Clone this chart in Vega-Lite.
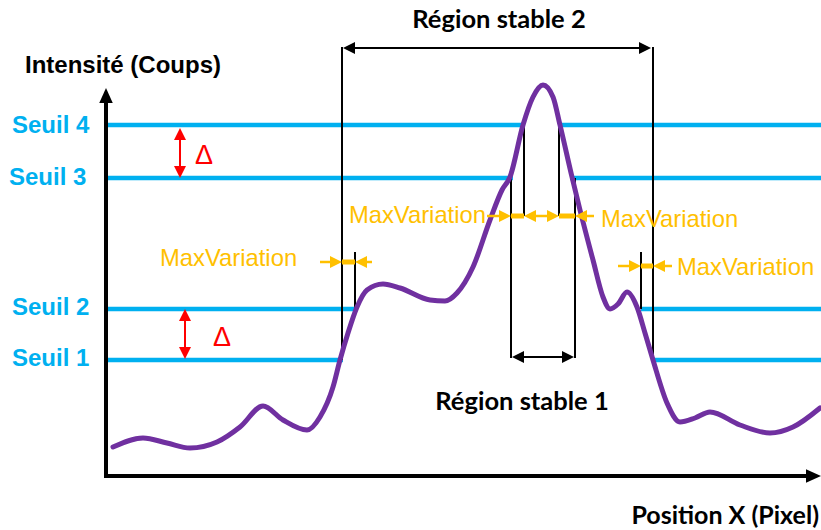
{
  "$schema": "https://vega.github.io/schema/vega-lite/v6.json",
  "width": 821,
  "height": 530,
  "padding": 0,
  "autosize": {"type": "none"},
  "background": "white",
  "config": {"view": {"stroke": null}},
  "datasets": {
    "curve": [
      {"x": 113, "y": 447}, {"x": 143, "y": 438}, {"x": 167, "y": 443}, {"x": 190, "y": 448},
      {"x": 217, "y": 442}, {"x": 240, "y": 427}, {"x": 263, "y": 406}, {"x": 283, "y": 420},
      {"x": 307, "y": 430}, {"x": 320, "y": 417}, {"x": 333, "y": 387}, {"x": 340, "y": 360},
      {"x": 348, "y": 333}, {"x": 357, "y": 307}, {"x": 367, "y": 290}, {"x": 383, "y": 284},
      {"x": 400, "y": 288}, {"x": 430, "y": 300}, {"x": 445, "y": 301}, {"x": 457, "y": 293},
      {"x": 473, "y": 267}, {"x": 490, "y": 220}, {"x": 502, "y": 190}, {"x": 510, "y": 177},
      {"x": 523, "y": 125}, {"x": 533, "y": 97}, {"x": 543, "y": 85}, {"x": 553, "y": 97},
      {"x": 560, "y": 125}, {"x": 572, "y": 177}, {"x": 580, "y": 210}, {"x": 593, "y": 260},
      {"x": 603, "y": 297}, {"x": 610, "y": 309}, {"x": 618, "y": 304}, {"x": 627, "y": 292},
      {"x": 637, "y": 307}, {"x": 645, "y": 333}, {"x": 653, "y": 360}, {"x": 667, "y": 403},
      {"x": 680, "y": 422}, {"x": 695, "y": 418}, {"x": 710, "y": 412}, {"x": 740, "y": 425},
      {"x": 770, "y": 433}, {"x": 793, "y": 427}, {"x": 820, "y": 408}
    ],
    "segs": [
      {"kind": "axis", "x": 106, "y": 478, "xe": 106, "ye": 98},
      {"kind": "axis", "x": 104, "y": 476, "xe": 810, "ye": 476},
      {"kind": "seuil", "x": 108, "y": 125, "xe": 525, "ye": 125},
      {"kind": "seuil", "x": 559, "y": 125, "xe": 821, "ye": 125},
      {"kind": "seuil", "x": 108, "y": 178, "xe": 513, "ye": 178},
      {"kind": "seuil", "x": 570, "y": 178, "xe": 821, "ye": 178},
      {"kind": "seuil", "x": 108, "y": 309, "xe": 356, "ye": 309},
      {"kind": "seuil", "x": 641, "y": 309, "xe": 821, "ye": 309},
      {"kind": "seuil", "x": 108, "y": 360, "xe": 343, "ye": 360},
      {"kind": "seuil", "x": 652, "y": 360, "xe": 821, "ye": 360},
      {"kind": "thin", "x": 342, "y": 47, "xe": 342, "ye": 360},
      {"kind": "thin", "x": 653, "y": 47, "xe": 653, "ye": 360},
      {"kind": "thin", "x": 346, "y": 48, "xe": 646, "ye": 48},
      {"kind": "thin", "x": 355, "y": 252, "xe": 355, "ye": 309},
      {"kind": "thin", "x": 641, "y": 252, "xe": 641, "ye": 309},
      {"kind": "thin", "x": 524, "y": 125, "xe": 524, "ye": 216},
      {"kind": "thin", "x": 559, "y": 125, "xe": 559, "ye": 216},
      {"kind": "thin", "x": 511, "y": 178, "xe": 511, "ye": 358},
      {"kind": "thin", "x": 575, "y": 178, "xe": 575, "ye": 358},
      {"kind": "thin", "x": 516, "y": 357, "xe": 570, "ye": 357},
      {"kind": "oshaft", "x": 320, "y": 262, "xe": 338, "ye": 262},
      {"kind": "obar", "x": 342, "y": 262, "xe": 355, "ye": 262},
      {"kind": "oshaft", "x": 372, "y": 262, "xe": 359, "ye": 262},
      {"kind": "oshaft", "x": 487, "y": 216, "xe": 507, "ye": 216},
      {"kind": "obar", "x": 511, "y": 216, "xe": 524, "ye": 216},
      {"kind": "oshaft", "x": 528, "y": 216, "xe": 555, "ye": 216},
      {"kind": "obar", "x": 559, "y": 216, "xe": 575, "ye": 216},
      {"kind": "oshaft", "x": 594, "y": 216, "xe": 579, "ye": 216},
      {"kind": "oshaft", "x": 618, "y": 266, "xe": 637, "ye": 266},
      {"kind": "obar", "x": 641, "y": 266, "xe": 653, "ye": 266},
      {"kind": "oshaft", "x": 672, "y": 266, "xe": 657, "ye": 266},
      {"kind": "red", "x": 180, "y": 132, "xe": 180, "ye": 174},
      {"kind": "red", "x": 185, "y": 313, "xe": 185, "ye": 355}
    ],
    "heads": [
      {"kind": "black", "dir": "left", "x": 343, "y": 48},
      {"kind": "black", "dir": "right", "x": 651, "y": 48},
      {"kind": "black", "dir": "left", "x": 512, "y": 357},
      {"kind": "black", "dir": "right", "x": 574, "y": 357},
      {"kind": "orange", "dir": "right", "x": 342, "y": 262},
      {"kind": "orange", "dir": "left", "x": 355, "y": 262},
      {"kind": "orange", "dir": "right", "x": 511, "y": 216},
      {"kind": "orange", "dir": "left", "x": 524, "y": 216},
      {"kind": "orange", "dir": "right", "x": 559, "y": 216},
      {"kind": "orange", "dir": "left", "x": 575, "y": 216},
      {"kind": "orange", "dir": "right", "x": 641, "y": 266},
      {"kind": "orange", "dir": "left", "x": 653, "y": 266},
      {"kind": "red", "dir": "up", "x": 180, "y": 128},
      {"kind": "red", "dir": "down", "x": 180, "y": 178},
      {"kind": "red", "dir": "up", "x": 185, "y": 309},
      {"kind": "red", "dir": "down", "x": 185, "y": 359}
    ],
    "axisheads": [
      {"dir": "up", "x": 106, "y": 88},
      {"dir": "right", "x": 821, "y": 476}
    ],
    "labels": [
      {"kind": "seuil", "text": "Seuil 4", "x": 12, "y": 133},
      {"kind": "seuil", "text": "Seuil 3", "x": 9, "y": 185},
      {"kind": "seuil", "text": "Seuil 2", "x": 12, "y": 315},
      {"kind": "seuil", "text": "Seuil 1", "x": 12, "y": 366},
      {"kind": "title", "text": "Intensité (Coups)", "x": 25, "y": 73},
      {"kind": "region", "text": "Région stable 2", "x": 499, "y": 28},
      {"kind": "region", "text": "Région stable 1", "x": 522, "y": 410},
      {"kind": "xlabel", "text": "Position X (Pixel)", "x": 819, "y": 524},
      {"kind": "mv", "text": "MaxVariation", "x": 160, "y": 266},
      {"kind": "mvr", "text": "MaxVariation", "x": 486, "y": 223},
      {"kind": "mv", "text": "MaxVariation", "x": 601, "y": 227},
      {"kind": "mv", "text": "MaxVariation", "x": 677, "y": 275},
      {"kind": "delta", "text": "Δ", "x": 195, "y": 164},
      {"kind": "delta", "text": "Δ", "x": 213, "y": 346}
    ]
  },
  "encoding": {
    "x": {"field": "x", "type": "quantitative", "scale": {"domain": [0, 821], "nice": false, "zero": false}, "axis": null},
    "y": {"field": "y", "type": "quantitative", "scale": {"domain": [0, 530], "nice": false, "zero": false, "reverse": true}, "axis": null}
  },
  "layer": [
    {
      "data": {"name": "segs"},
      "transform": [{"filter": "datum.kind === 'seuil'"}],
      "mark": {"type": "rule", "color": "#00b0f0", "strokeWidth": 4.5},
      "encoding": {"x2": {"field": "xe"}, "y2": {"field": "ye"}}
    },
    {
      "data": {"name": "segs"},
      "transform": [{"filter": "datum.kind === 'thin'"}],
      "mark": {"type": "rule", "color": "#000000", "strokeWidth": 2},
      "encoding": {"x2": {"field": "xe"}, "y2": {"field": "ye"}}
    },
    {
      "data": {"name": "curve"},
      "mark": {"type": "line", "color": "#7030a0", "strokeWidth": 5, "interpolate": "monotone", "strokeCap": "round"},
      "encoding": {}
    },
    {
      "data": {"name": "segs"},
      "transform": [{"filter": "datum.kind === 'oshaft'"}],
      "mark": {"type": "rule", "color": "#ffc000", "strokeWidth": 2.5},
      "encoding": {"x2": {"field": "xe"}, "y2": {"field": "ye"}}
    },
    {
      "data": {"name": "segs"},
      "transform": [{"filter": "datum.kind === 'obar'"}],
      "mark": {"type": "rule", "color": "#ffc000", "strokeWidth": 5},
      "encoding": {"x2": {"field": "xe"}, "y2": {"field": "ye"}}
    },
    {
      "data": {"name": "segs"},
      "transform": [{"filter": "datum.kind === 'red'"}],
      "mark": {"type": "rule", "color": "#ff0000", "strokeWidth": 2},
      "encoding": {"x2": {"field": "xe"}, "y2": {"field": "ye"}}
    },
    {
      "data": {"name": "segs"},
      "transform": [{"filter": "datum.kind === 'axis'"}],
      "mark": {"type": "rule", "color": "#000000", "strokeWidth": 4},
      "encoding": {"x2": {"field": "xe"}, "y2": {"field": "ye"}}
    },
    {
      "data": {"name": "heads"},
      "transform": [{"filter": "datum.dir === 'right'"}],
      "mark": {"type": "point", "shape": "M0,0L-2,-1L-2,1Z", "filled": true, "opacity": 1, "size": 144, "strokeWidth": 0},
      "encoding": {"color": {"field": "kind", "type": "nominal", "scale": {"domain": ["black", "orange", "red"], "range": ["#000000", "#ffc000", "#ff0000"]}, "legend": null}}
    },
    {
      "data": {"name": "heads"},
      "transform": [{"filter": "datum.dir === 'left'"}],
      "mark": {"type": "point", "shape": "M0,0L2,-1L2,1Z", "filled": true, "opacity": 1, "size": 144, "strokeWidth": 0},
      "encoding": {"color": {"field": "kind", "type": "nominal", "scale": {"domain": ["black", "orange", "red"], "range": ["#000000", "#ffc000", "#ff0000"]}, "legend": null}}
    },
    {
      "data": {"name": "heads"},
      "transform": [{"filter": "datum.dir === 'up'"}],
      "mark": {"type": "point", "shape": "M0,0L-1,2L1,2Z", "filled": true, "opacity": 1, "size": 144, "strokeWidth": 0},
      "encoding": {"color": {"field": "kind", "type": "nominal", "scale": {"domain": ["black", "orange", "red"], "range": ["#000000", "#ffc000", "#ff0000"]}, "legend": null}}
    },
    {
      "data": {"name": "heads"},
      "transform": [{"filter": "datum.dir === 'down'"}],
      "mark": {"type": "point", "shape": "M0,0L-1,-2L1,-2Z", "filled": true, "opacity": 1, "size": 144, "strokeWidth": 0},
      "encoding": {"color": {"field": "kind", "type": "nominal", "scale": {"domain": ["black", "orange", "red"], "range": ["#000000", "#ffc000", "#ff0000"]}, "legend": null}}
    },
    {
      "data": {"name": "axisheads"},
      "transform": [{"filter": "datum.dir === 'up'"}],
      "mark": {"type": "point", "shape": "M0,0L-0.9,2L0.9,2Z", "filled": true, "opacity": 1, "size": 225, "color": "#000000", "strokeWidth": 0}
    },
    {
      "data": {"name": "axisheads"},
      "transform": [{"filter": "datum.dir === 'right'"}],
      "mark": {"type": "point", "shape": "M0,0L-2,-0.9L-2,0.9Z", "filled": true, "opacity": 1, "size": 225, "color": "#000000", "strokeWidth": 0}
    },
    {
      "data": {"name": "labels"},
      "transform": [{"filter": "datum.kind === 'seuil'"}],
      "mark": {"type": "text", "align": "left", "baseline": "alphabetic", "font": "Liberation Sans", "fontWeight": "bold", "fontSize": 24, "color": "#00b0f0"},
      "encoding": {"text": {"field": "text"}}
    },
    {
      "data": {"name": "labels"},
      "transform": [{"filter": "datum.kind === 'title'"}],
      "mark": {"type": "text", "align": "left", "baseline": "alphabetic", "font": "Liberation Sans", "fontWeight": "bold", "fontSize": 24, "color": "#000000"},
      "encoding": {"text": {"field": "text"}}
    },
    {
      "data": {"name": "labels"},
      "transform": [{"filter": "datum.kind === 'region'"}],
      "mark": {"type": "text", "align": "center", "baseline": "alphabetic", "font": "Lato", "fontWeight": "bold", "fontSize": 25.5, "color": "#000000"},
      "encoding": {"text": {"field": "text"}}
    },
    {
      "data": {"name": "labels"},
      "transform": [{"filter": "datum.kind === 'xlabel'"}],
      "mark": {"type": "text", "align": "right", "baseline": "alphabetic", "font": "Lato", "fontWeight": "bold", "fontSize": 25, "color": "#000000"},
      "encoding": {"text": {"field": "text"}}
    },
    {
      "data": {"name": "labels"},
      "transform": [{"filter": "datum.kind === 'mv'"}],
      "mark": {"type": "text", "align": "left", "baseline": "alphabetic", "font": "Liberation Sans", "fontSize": 23.8, "color": "#ffc000"},
      "encoding": {"text": {"field": "text"}}
    },
    {
      "data": {"name": "labels"},
      "transform": [{"filter": "datum.kind === 'mvr'"}],
      "mark": {"type": "text", "align": "right", "baseline": "alphabetic", "font": "Liberation Sans", "fontSize": 23.8, "color": "#ffc000"},
      "encoding": {"text": {"field": "text"}}
    },
    {
      "data": {"name": "labels"},
      "transform": [{"filter": "datum.kind === 'delta'"}],
      "mark": {"type": "text", "align": "left", "baseline": "alphabetic", "font": "Liberation Sans", "fontSize": 27, "color": "#ff0000"},
      "encoding": {"text": {"field": "text"}}
    }
  ]
}
